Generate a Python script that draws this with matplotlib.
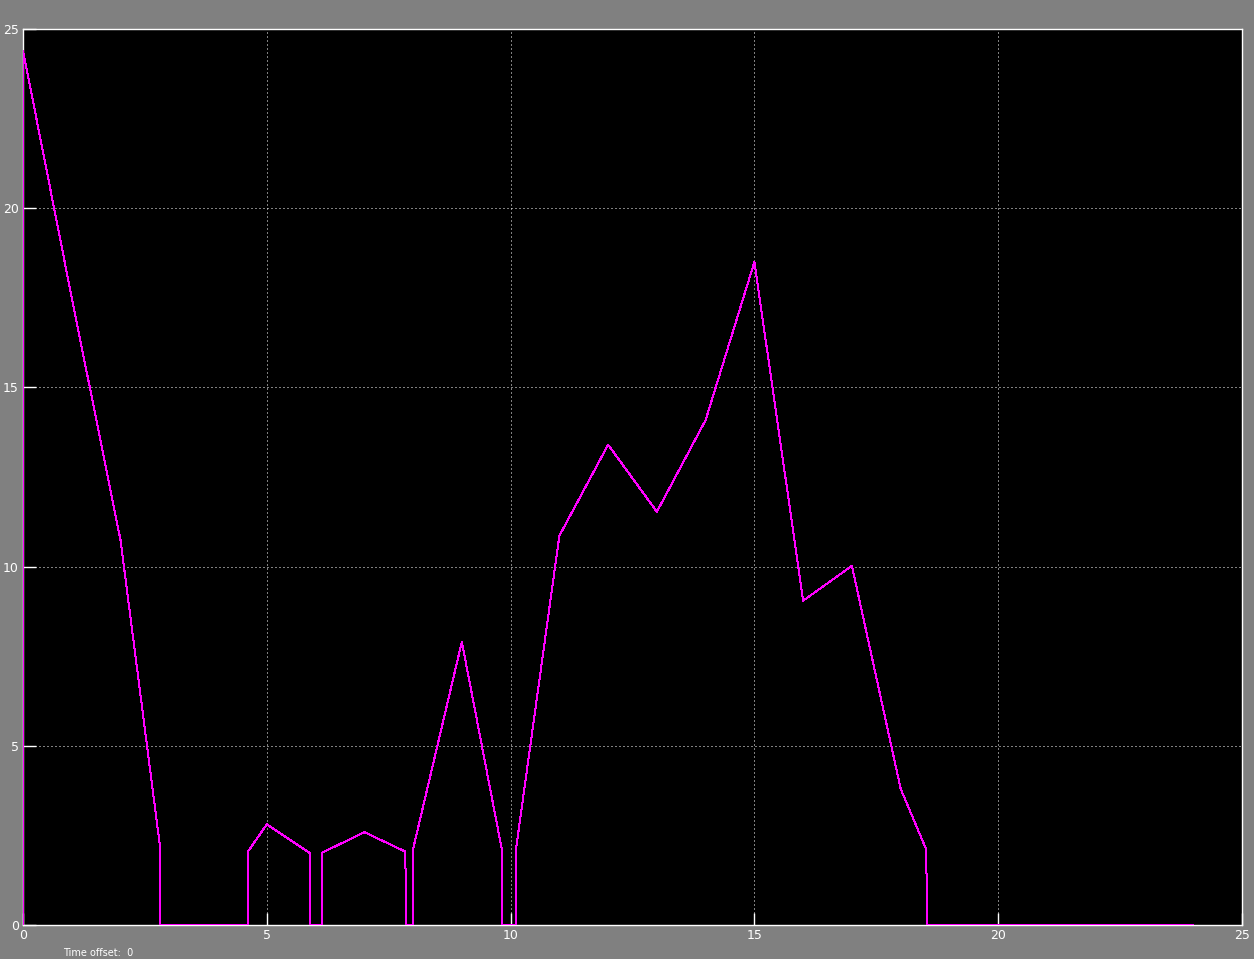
import matplotlib
matplotlib.use("Agg")
import matplotlib.pyplot as plt

# ── Scope signal ──────────────────────────────────────────
t = [0.0, 0.0, 1.0, 2.0, 2.80, 2.81, 4.61, 4.61, 5.0, 5.89, 5.89, 6.14, 6.14,
     7.0, 7.84, 7.86, 8.0, 8.0, 9.0, 9.82, 9.82, 10.12, 10.12, 11.0, 12.0,
     13.0, 14.0, 15.0, 16.0, 17.0, 18.0, 18.52, 18.55, 24.0]
y = [0.0, 24.4, 17.5, 10.74, 2.29, 0.0, 0.0, 2.04, 2.81, 2.0, 0.0, 0.0, 2.02,
     2.59, 2.05, 0.0, 0.0, 2.12, 7.9, 2.11, 0.0, 0.0, 2.21, 10.86, 13.4,
     11.53, 14.09, 18.5, 9.05, 10.02, 3.8, 2.12, 0.0, 0.0]

ticks = [0, 5, 10, 15, 20, 25]

W, H = 1254, 959
fig = plt.figure(figsize=(W / 100, H / 100), dpi=100, facecolor="#808080")
ax = fig.add_axes([23 / W, (H - 925) / H, (1242 - 23) / W, (925 - 29) / H])
ax.set_facecolor("black")

# yellow trace sits just under the magenta one
ax.plot(t, y, color="yellow", linewidth=0.72, antialiased=False, zorder=3)
ax.plot(t, y, color="magenta", linewidth=0.72, antialiased=False, zorder=4)

ax.set_xlim(0, 25)
ax.set_ylim(0, 25)
ax.set_xticks(ticks)
ax.set_yticks(ticks)
ax.set_xticklabels([str(v) for v in ticks])
ax.set_yticklabels([str(v) for v in ticks])

ax.grid(True, color="white", linestyle=(0, (1, 3)), linewidth=0.72)
ax.tick_params(direction="in", colors="white", length=9, width=1.0,
               labelsize=9, pad=3, top=False, right=False)
for s in ax.spines.values():
    s.set_color("white")
    s.set_linewidth(1.0)

fig.text(0.05, 1 / H, "Time offset:  0", color="white", fontsize=7, va="bottom")

fig.savefig("out.png", dpi=100, facecolor=fig.get_facecolor())
